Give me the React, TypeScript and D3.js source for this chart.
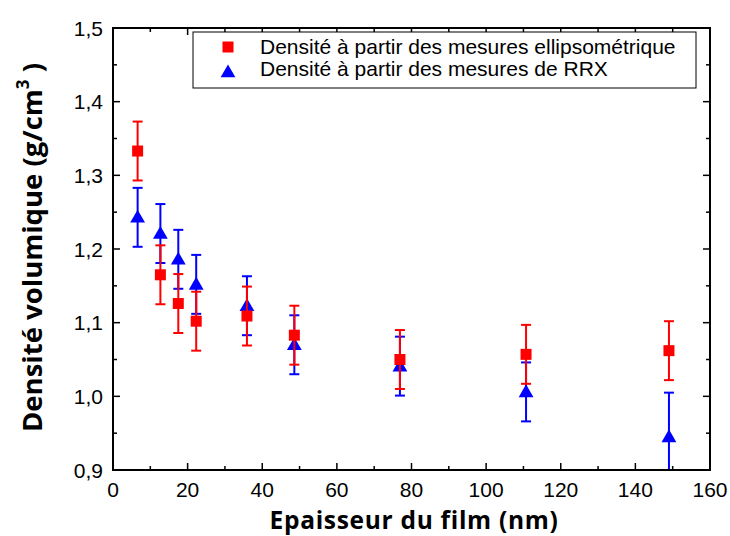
import React from "react";
import * as d3 from "d3";

const thickness = [6.6, 12.7, 17.5, 22.3, 35.9, 48.6, 76.9, 110.7, 149];
const densEllipso = [1.333, 1.165, 1.126, 1.102, 1.109, 1.083, 1.05, 1.057, 1.062];
const errEllipso = [0.04, 0.04, 0.04, 0.04, 0.04, 0.04, 0.04, 0.04, 0.04];
const densRRX = [1.243, 1.221, 1.186, 1.152, 1.123, 1.07, 1.041, 1.006, 0.945];
const errRRX = [0.04, 0.04, 0.04, 0.04, 0.04, 0.04, 0.04, 0.04, 0.06];
const xTicks = [0, 20, 40, 60, 80, 100, 120, 140, 160];
const yTicks = [0.9, 1.0, 1.1, 1.2, 1.3, 1.4, 1.5];
const legendLabels = [
  "Densité à partir des mesures ellipsométrique",
  "Densité à partir des mesures de RRX",
];

const W = 730;
const H = 536;
const L = 113, R = 710, T = 28, B = 470;

export default function App() {
  const x = d3.scaleLinear().domain([0, 160]).range([L, R]);
  const y = d3.scaleLinear().domain([0.9, 1.5]).range([B, T]);
  const xMinor = d3.range(0, 161, 10);
  const yMinor = d3.range(0, 13).map((i) => 0.9 + i * 0.05);
  const fmt = (v: number) => v.toFixed(1).replace(".", ",");
  const tri = d3.symbol().type(d3.symbolTriangle).size(95)();
  const capW = 5;
  const red = "#ff0000";
  const blue = "#0000ff";

  const errorBars = (vals: number[], errs: number[], color: string) =>
    thickness.map((t, i) => {
      const cx = x(t);
      const y1 = y(vals[i] + errs[i]);
      const y2 = y(vals[i] - errs[i]);
      return (
        <g key={i} stroke={color} strokeWidth={2}>
          <line x1={cx} x2={cx} y1={y1} y2={y2} />
          <line x1={cx - capW} x2={cx + capW} y1={y1} y2={y1} />
          <line x1={cx - capW} x2={cx + capW} y1={y2} y2={y2} />
        </g>
      );
    });

  return (
    <svg
      width={W}
      height={H}
      style={{ position: "absolute", left: 0, top: 0, background: "#fff" }}
    >
      <defs>
        <clipPath id="plotclip">
          <rect x={L} y={T} width={R - L} height={B - T} />
        </clipPath>
      </defs>
      <rect width={W} height={H} fill="#fff" />
      <g clipPath="url(#plotclip)">
        {errorBars(densRRX, errRRX, blue)}
        {thickness.map((t, i) => (
          <path key={i} d={tri!} transform={`translate(${x(t)},${y(densRRX[i]) + 1})`} fill={blue} />
        ))}
        {errorBars(densEllipso, errEllipso, red)}
        {thickness.map((t, i) => (
          <rect key={i} x={x(t) - 5.5} y={y(densEllipso[i]) - 5.5} width={11} height={11} fill={red} />
        ))}
      </g>
      {/* frame */}
      <rect x={L} y={T} width={R - L} height={B - T} fill="none" stroke="#000" strokeWidth={2} />
      {xMinor.map((v, i) => {
        const major = v % 20 === 0;
        const len = major ? 7 : 4;
        return (
          <g key={"xt" + i} stroke="#000" strokeWidth={1.5}>
            <line x1={x(v)} x2={x(v)} y1={B} y2={B - len} />
            <line x1={x(v)} x2={x(v)} y1={T} y2={T + len} />
          </g>
        );
      })}
      {yMinor.map((v, i) => {
        const major = i % 2 === 0;
        const len = major ? 7 : 4;
        return (
          <g key={"yt" + i} stroke="#000" strokeWidth={1.5}>
            <line x1={L} x2={L + len} y1={y(v)} y2={y(v)} />
            <line x1={R} x2={R - len} y1={y(v)} y2={y(v)} />
          </g>
        );
      })}
      {xTicks.map((v) => (
        <text
          key={"xl" + v}
          x={x(v)}
          y={497}
          textAnchor="middle"
          fontFamily="Liberation Sans, Arial, sans-serif"
          fontSize={21}
        >
          {v}
        </text>
      ))}
      {yTicks.map((v) => (
        <text
          key={"yl" + v}
          x={L - 10}
          y={y(v) + 7.5}
          textAnchor="end"
          fontFamily="Liberation Sans, Arial, sans-serif"
          fontSize={21}
        >
          {fmt(v)}
        </text>
      ))}
      {/* axis titles */}
      <text
        x={414}
        y={529}
        textAnchor="middle"
        fontFamily="Open Sans, sans-serif"
        fontWeight="bold"
        fontSize={24.5}
        letterSpacing={0.7}
      >
        Epaisseur du film (nm)
      </text>
      <text
        transform={`translate(42,432) rotate(-90)`}
        textAnchor="start"
        fontFamily="Open Sans, sans-serif"
        fontWeight="bold"
        fontSize={27.5}
      >
        Densité volumique (g/cm<tspan dy={-13} fontSize={17}>3</tspan>
        <tspan dy={13}> )</tspan>
      </text>
      {/* legend */}
      <rect x={193} y={32} width={503} height={56} fill="#fff" stroke="#000" strokeWidth={1} />
      <rect x={222.5} y={41.5} width={11} height={11} fill={red} />
      <path d={tri!} transform="translate(228,73)" fill={blue} />
      {legendLabels.map((lab, i) => (
        <text
          key={lab}
          x={260}
          y={54 + i * 22}
          fontFamily="Liberation Sans, Arial, sans-serif"
          fontSize={21}
        >
          {lab}
        </text>
      ))}
    </svg>
  );
}
